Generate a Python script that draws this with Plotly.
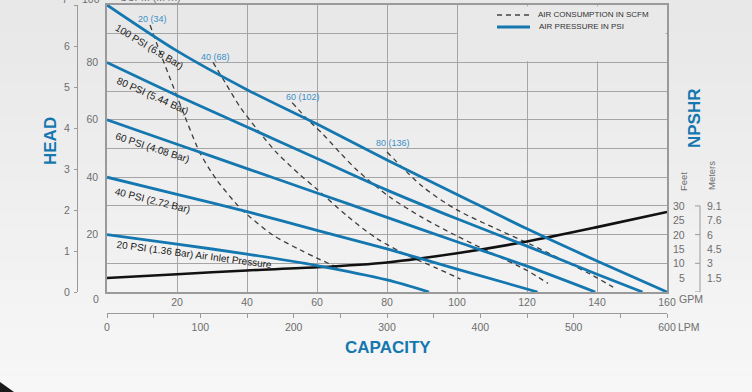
import plotly.graph_objects as go

# Head (ft) vs capacity (GPM) for each air inlet pressure
gpm_100 = [0, 20, 40, 60, 80, 100, 120, 140, 160]
head_100 = [100, 84, 70.5, 58.5, 46, 34, 22, 10.8, 0]
gpm_80 = [0, 20, 40, 60, 80, 100, 120, 140, 153]
head_80 = [80, 68.5, 57.5, 46.5, 35.5, 25.5, 16, 6.2, 0]
gpm_60 = [0, 20, 40, 60, 80, 100, 120, 139.5]
head_60 = [60, 51.5, 43, 34.5, 26, 17.5, 9, 0]
gpm_40 = [0, 20, 40, 60, 80, 100, 123]
head_40 = [40, 34, 28, 21.5, 15, 8, 0]
gpm_20 = [0, 20, 40, 60, 80, 92]
head_20 = [20, 16.7, 13.2, 9.2, 4.2, 0]

# Air consumption (SCFM) curves
scfm20_gpm = [12.3, 15, 18, 21.5, 26.6, 31.4, 38, 41, 47.4, 55, 60, 66]
scfm20_head = [93, 84, 74.5, 63.5, 48.4, 39, 29.3, 26, 19.8, 14.8, 11.8, 8.5]
scfm40_gpm = [30.3, 34, 38, 43, 48.6, 55, 60, 68.6, 77, 86, 94, 101]
scfm40_head = [80, 72.5, 64.5, 56.5, 48.4, 41, 35.8, 26.5, 18.7, 12.7, 8.4, 4.5]
scfm60_gpm = [52.9, 57, 61.7, 66.6, 71.4, 80.9, 90, 100, 110, 120, 126]
scfm60_head = [66, 60.5, 55, 48.5, 42.5, 33, 26, 19.5, 13.5, 7.5, 3]
scfm80_gpm = [80, 90.3, 100, 112, 121, 130, 138, 144.6]
scfm80_head = [48.8, 36.6, 28.6, 21.6, 16.6, 11.2, 6.3, 1.7]

# NPSHR (ft)
npshr_gpm = [0, 20, 40, 60, 80, 100, 120, 140, 160]
npshr_ft = [4.9, 6.2, 7.5, 8.6, 10.3, 13.5, 17.6, 22.6, 27.9]

psi_labels = ["100 PSI (6.8 Bar)", "80 PSI (5.44 Bar)", "60 PSI (4.08 Bar)",
              "40 PSI (2.72 Bar)", "20 PSI (1.36 Bar) Air Inlet Pressure"]
scfm_labels = ["20 (34)", "40 (68)", "60 (102)", "80 (136)"]

gpm_ticks = list(range(0, 161, 20))
lpm_ticks = list(range(0, 601, 50))
head_ticks = list(range(0, 101, 10))
meter_ticks = list(range(0, 8))
npshr_feet = [5, 10, 15, 20, 25, 30]
npshr_meters = ["1.5", "3", "4.5", "6", "7.6", "9.1"]

BLUE = "#1477b0"
LABEL_BLUE = "#3b8fc6"
GRID = "#a5a5a5"
AXIS_GREY = "#9a9a9a"
TICK_GREY = "#6e6e6e"
FONT = "Liberation Sans, Arial, sans-serif"

W, H = 752, 392
ML, MR, MT, MB = 60, 85, 5, 79
PW = W - ML - MR
PH = H - MT - MB


def px(xp):
    return (xp - ML) / PW


def py(yp):
    return (H - MB - yp) / PH


fig = go.Figure()

# dashed air consumption lines
for gx, hy in [(scfm20_gpm, scfm20_head), (scfm40_gpm, scfm40_head),
               (scfm60_gpm, scfm60_head), (scfm80_gpm, scfm80_head)]:
    fig.add_trace(go.Scatter(x=gx, y=hy, mode="lines", showlegend=False, hoverinfo="skip",
                             line=dict(color="#3c3c3c", width=1.3, dash="5px,4px",
                                       shape="spline", smoothing=0.8)))

# NPSHR
fig.add_trace(go.Scatter(x=npshr_gpm, y=npshr_ft, mode="lines", showlegend=False, hoverinfo="skip",
                         line=dict(color="#111111", width=2.6, shape="spline", smoothing=0.8)))

# pressure curves
for gx, hy in [(gpm_100, head_100), (gpm_80, head_80), (gpm_60, head_60),
               (gpm_40, head_40), (gpm_20, head_20)]:
    fig.add_trace(go.Scatter(x=gx, y=hy, mode="lines", showlegend=False, hoverinfo="skip",
                             line=dict(color=BLUE, width=2.8, shape="spline", smoothing=0.8)))

# invisible traces so the secondary axes get drawn
fig.add_trace(go.Scatter(x=[0, 600], y=[0, 0], xaxis="x2", yaxis="y", mode="lines",
                         opacity=0, showlegend=False, hoverinfo="skip"))
fig.add_trace(go.Scatter(x=[0, 160], y=[0, 0], xaxis="x", yaxis="y2", mode="lines",
                         opacity=0, showlegend=False, hoverinfo="skip"))

# background gradient
n = 24
shapes = []
for i in range(n):
    g = int(232 + (247 - 232) * i / (n - 1))
    shapes.append(dict(type="rect", xref="paper", yref="paper", layer="below",
                       x0=px(0), x1=px(W), y0=py(H * (i + 1) / n), y1=py(H * i / n),
                       line=dict(width=0), fillcolor=f"rgb({g},{g},{g})"))
shapes.append(dict(type="path", xref="paper", yref="paper", layer="above",
                   path=f"M {px(0)},{py(392)} L {px(0)},{py(382)} L {px(14)},{py(392)} Z",
                   fillcolor="#1a1a1a", line=dict(width=0)))

# legend box (hides grid)
shapes.append(dict(type="rect", xref="x", yref="y", layer="between",
                   x0=100.3, x1=159.6, y0=80.4, y1=99.6,
                   line=dict(width=0), fillcolor="rgb(233,233,233)"))
shapes.append(dict(type="line", xref="paper", yref="paper", x0=px(497), x1=px(530),
                   y0=py(15), y1=py(15), line=dict(color="#444444", width=1.3, dash="5px,4px")))
shapes.append(dict(type="line", xref="paper", yref="paper", x0=px(497), x1=px(530),
                   y0=py(27), y1=py(27), line=dict(color=BLUE, width=2.8)))

# NPSHR scale on the right
shapes.append(dict(type="line", xref="paper", yref="y", x0=px(700), x1=px(700),
                   y0=0, y1=30, line=dict(color=AXIS_GREY, width=1)))
for v in [0, 10, 20, 30]:
    shapes.append(dict(type="line", xref="paper", yref="y", x0=px(695), x1=px(700),
                       y0=v, y1=v, line=dict(color=AXIS_GREY, width=1)))


def note(text, x, y, xref="paper", yref="paper", xanchor="center", font=None, angle=0):
    return dict(text=text, x=x, y=y, xref=xref, yref=yref, xanchor=xanchor,
                yanchor="middle", textangle=angle, showarrow=False, font=font)


ann = []
small = dict(family=FONT, size=10.5, color=TICK_GREY)
for ft, m in zip(npshr_feet, npshr_meters):
    ann.append(note(str(ft), px(687), ft, yref="y", xanchor="right", font=small))
    ann.append(note(m, px(705), ft, yref="y", xanchor="left", font=small))

title_font = dict(family=FONT, size=17, color=BLUE)
side_font = dict(family=FONT, size=9.5, color=TICK_GREY)
legend_font = dict(family=FONT, size=8, color="#333333")
ann += [
    note("<b>HEAD</b>", px(50), py(141), font=title_font, angle=-90),
    note("<b>CAPACITY</b>", px(388), py(347), font=title_font),
    note("<b>NPSHR</b>", px(694), py(118), font=title_font, angle=-90),
    note("Feet", px(683), py(182), font=side_font, angle=-90),
    note("Meters", px(711), py(176), font=side_font, angle=-90),
    note("GPM", px(677), py(299), xanchor="left", font=small),
    note("LPM", px(676), py(327), xanchor="left", font=small),
    note("0", px(96), py(299), font=small),
    # top labels of the head scales sit right at the page edge
    note("100", px(102), py(-1), xanchor="right", font=small),
    note("7", px(70), py(-1), xanchor="right", font=small),
    note("SCFM (M³/h)", px(150), py(-3), font=small),
    note("AIR CONSUMPTION IN SCFM", px(536), py(15), xanchor="left", font=legend_font),
    note("AIR PRESSURE IN PSI", px(537), py(27), xanchor="left", font=legend_font),
]

# curve labels
psi_font = dict(family=FONT, size=10, color="#1a1a1a")
psi_pos = [(12, 85.7, 31), (12.9, 68.3, 24), (12.9, 50.5, 18), (13.1, 32, 14), (24.9, 12.9, 7.5)]
for txt, (x, y, a) in zip(psi_labels, psi_pos):
    ann.append(note(txt, x, y, xref="x", yref="y", font=psi_font, angle=a))
scfm_font = dict(family=FONT, size=9, color=LABEL_BLUE)
scfm_pos = [(13.1, 95.1), (31.1, 81.9), (56, 67.9), (81.7, 51.9)]
for txt, (x, y) in zip(scfm_labels, scfm_pos):
    ann.append(note(txt, x, y, xref="x", yref="y", font=scfm_font))

fig.update_layout(
    width=W, height=H,
    margin=dict(l=ML, r=MR, t=MT, b=MB, autoexpand=False),
    paper_bgcolor="rgb(236,236,236)",
    plot_bgcolor="rgba(0,0,0,0)",
    font=dict(family=FONT),
    hovermode=False,
    showlegend=False,
    xaxis=dict(domain=[px(107), 1], range=[0, 160], tickvals=gpm_ticks,
               ticktext=[""] + [str(v) for v in gpm_ticks[1:]],
               showgrid=True, gridcolor=GRID, gridwidth=1.2, zeroline=False,
               showline=True, linecolor=AXIS_GREY, linewidth=1.5, mirror=True,
               ticks="", tickfont=small, ticklabelstandoff=0, automargin=False),
    yaxis=dict(domain=[py(292), 1], range=[0, 100], tickvals=head_ticks,
               ticktext=[str(v) if v % 20 == 0 and 0 < v < 100 else "" for v in head_ticks],
               showgrid=True, gridcolor=GRID, gridwidth=1.2, zeroline=False,
               showline=True, linecolor=AXIS_GREY, linewidth=1.5, mirror=True,
               ticks="", tickfont=small, ticklabelstandoff=5, automargin=False),
    xaxis2=dict(overlaying="x", anchor="free", position=0, side="bottom",
                range=[0, 600], tickvals=lpm_ticks,
                ticktext=[str(v) if v % 100 == 0 else "" for v in lpm_ticks],
                showgrid=False, zeroline=False, showline=True, linecolor=AXIS_GREY,
                linewidth=1.2, ticks="outside", ticklen=4, tickcolor=AXIS_GREY,
                tickfont=small, automargin=False),
    yaxis2=dict(overlaying="y", anchor="free", position=px(77), side="left",
                range=[0, 7], tickvals=meter_ticks,
                ticktext=[str(v) if v < 7 else "" for v in meter_ticks],
                showgrid=False, zeroline=False,
                showline=True, linecolor=AXIS_GREY, linewidth=1.2, ticks="outside",
                ticklen=3, tickcolor=AXIS_GREY, tickfont=small, ticklabelstandoff=2,
                automargin=False),
    shapes=shapes,
    annotations=ann,
)

# the page's default body margin would shift the figure; drop it
fig.write_html("out.html", config={"displayModeBar": False},
               post_script="document.body.style.margin='0';")
